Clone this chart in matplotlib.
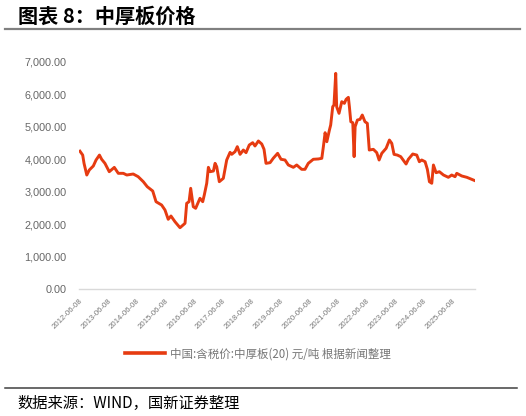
import numpy as np
import pandas as pd
import matplotlib
matplotlib.use('Agg')
import matplotlib.pyplot as plt
import matplotlib.dates as mdates
from matplotlib.ticker import FuncFormatter
from matplotlib.lines import Line2D

plt.rcParams['font.family'] = ['Liberation Sans', 'Noto Sans CJK SC', 'DejaVu Sans']

# 中厚板(20) 含税价, 元/吨
dates = [
    '2012-06-20', '2012-07-25', '2012-08-11', '2012-09-15', '2012-10-17', '2012-12-07',
    '2013-01-11', '2013-02-23', '2013-03-23', '2013-05-04', '2013-06-28', '2013-08-31',
    '2013-10-21', '2013-12-24', '2014-02-06', '2014-04-29', '2014-07-01', '2014-09-04',
    '2014-10-24', '2015-01-02', '2015-02-13', '2015-04-25', '2015-06-07', '2015-07-18',
    '2015-08-22', '2015-10-12', '2015-12-15', '2016-02-17', '2016-03-09', '2016-04-08',
    '2016-04-29', '2016-06-01', '2016-07-01', '2016-08-25', '2016-09-29', '2016-10-19',
    '2016-11-19', '2016-12-10', '2017-01-01', '2017-02-12', '2017-03-05', '2017-03-26',
    '2017-04-28', '2017-06-18', '2017-07-31', '2017-09-12', '2017-10-03', '2017-11-14',
    '2017-12-13', '2018-01-17', '2018-02-28', '2018-04-03', '2018-05-14', '2018-06-27',
    '2018-07-26', '2018-09-07', '2018-10-20', '2018-11-18', '2018-12-13', '2019-02-03',
    '2019-03-15', '2019-05-10', '2019-06-22', '2019-08-12', '2019-09-23', '2019-11-26',
    '2020-01-08', '2020-03-11', '2020-04-22', '2020-06-03', '2020-08-06', '2020-10-09',
    '2020-11-22', '2020-12-12', '2021-01-03', '2021-01-25', '2021-02-27', '2021-03-15',
    '2021-04-10', '2021-04-26', '2021-05-18', '2021-05-30', '2021-06-29', '2021-08-03',
    '2021-09-05', '2021-09-27', '2021-10-26', '2021-11-08', '2021-11-26', '2021-12-21',
    '2022-01-07', '2022-01-20', '2022-02-18', '2022-03-23', '2022-04-21', '2022-05-25',
    '2022-06-24', '2022-07-19', '2022-09-09', '2022-10-22', '2022-11-21', '2022-12-25',
    '2023-02-18', '2023-04-01', '2023-05-01', '2023-05-30', '2023-07-11', '2023-08-23',
    '2023-10-30', '2023-11-28', '2024-01-23', '2024-03-14', '2024-04-16', '2024-05-16',
    '2024-06-28', '2024-07-27', '2024-08-22', '2024-09-21', '2024-10-12', '2024-11-15',
    '2024-12-27', '2025-02-17', '2025-04-20', '2025-06-02', '2025-07-14', '2025-08-05',
    '2025-10-08', '2025-12-11', '2026-02-13', '2026-03-25',
]
prices = [
    4250, 4130, 3875, 3515, 3670, 3793,
    3978, 4130, 4000, 3875, 3617, 3750,
    3567, 3567, 3515, 3546, 3463, 3309,
    3155, 3022, 2692, 2590, 2436, 2149,
    2251, 2075, 1890, 2026, 2642, 2692,
    3105, 2538, 2488, 2797, 2692, 2899,
    3260, 3752, 3617, 3638, 3875, 3771,
    3309, 3412, 3978, 4214, 4152, 4235,
    4390, 4152, 4286, 4204, 4440, 4512,
    4410, 4564, 4471, 4307, 3875, 3896,
    4030, 4184, 4000, 3978, 3824, 3752,
    3824, 3690, 3690, 3875, 4000, 4010,
    4030, 4390, 4820, 4542, 4903, 5057,
    5622, 5674, 6650, 5622, 5417, 5776,
    5725, 5849, 5910, 5622, 5159, 5128,
    4081, 5005, 5211, 5231, 5365, 5159,
    5108, 4286, 4307, 4204, 3978, 4184,
    4338, 4594, 4492, 4152, 4130, 4081,
    3854, 4000, 4163, 4130, 3925, 3978,
    3925, 3690, 3309, 3260, 3824, 3586,
    3617, 3515, 3444, 3515, 3463, 3567,
    3485, 3444, 3382, 3340,
]
tick_dates = ['%d-06-08' % y for y in range(2012, 2026)]
y_ticks = [0, 1000, 2000, 3000, 4000, 5000, 6000, 7000]

series_name = '中国:含税价:中厚板(20) 元/吨 根据新闻整理'
title = '图表 8：中厚板价格'
source = '数据来源：WIND，国新证券整理'

x = pd.to_datetime(dates)

fig = plt.figure(figsize=(5.26, 4.16), dpi=100)
ax = fig.add_axes([79 / 526, 1 - 289 / 416, (475 - 79) / 526, (289 - 62) / 416])

ax.plot(x, prices, color='#E63B11', lw=2.1, solid_joinstyle='round')

ax.set_xlim(pd.Timestamp('2012-06-08'), x[-1])
ax.set_ylim(0, 7000)
ax.set_yticks(y_ticks)
ax.yaxis.set_major_formatter(FuncFormatter(lambda v, p: '{:,.2f}'.format(v)))
ax.set_xticks(pd.to_datetime(tick_dates))
ax.xaxis.set_major_formatter(mdates.DateFormatter('%Y-%m-%d'))

for s in ['top', 'right', 'left']:
    ax.spines[s].set_visible(False)
ax.spines['bottom'].set_color('#d9d9d9')
ax.spines['bottom'].set_linewidth(1.0)
ax.tick_params(axis='both', length=0)
ax.tick_params(axis='y', pad=9, labelsize=7.8, labelcolor='#666666')
ax.tick_params(axis='x', pad=6, labelsize=5.6, labelcolor='#777777')
for lab in ax.get_xticklabels():
    lab.set_rotation(45)
    lab.set_ha('right')
    lab.set_va('top')
    lab.set_rotation_mode('anchor')

handle = Line2D([], [], color='#E63B11', lw=2.6)
leg = fig.legend([handle], [series_name], loc='center',
                 bbox_to_anchor=(258 / 526, 1 - 354 / 416), frameon=False,
                 handlelength=3.5, handletextpad=0.45,
                 prop={'family': ['Noto Sans CJK SC', 'DejaVu Sans'], 'size': 8.3})
for t in leg.get_texts():
    t.set_color('#777777')

fig.text(18 / 526, 1 - 16 / 416, title, fontsize=14.5, fontweight='bold',
         family=['Noto Sans CJK SC', 'DejaVu Sans'], va='center', ha='left',
         style='italic', color='black')
fig.add_artist(Line2D([5 / 526, 520 / 526], [1 - 29 / 416, 1 - 29 / 416],
                      color='#808080', lw=1.6, transform=fig.transFigure))
fig.add_artist(Line2D([5 / 526, 517 / 526], [1 - 388 / 416, 1 - 388 / 416],
                      color='#404040', lw=1.1, transform=fig.transFigure))
fig.text(17 / 526, 1 - 403 / 416, source, fontsize=11,
         family=['Noto Sans CJK SC', 'DejaVu Sans'], va='center', ha='left',
         color='black')

fig.savefig('out.png', dpi=100)
